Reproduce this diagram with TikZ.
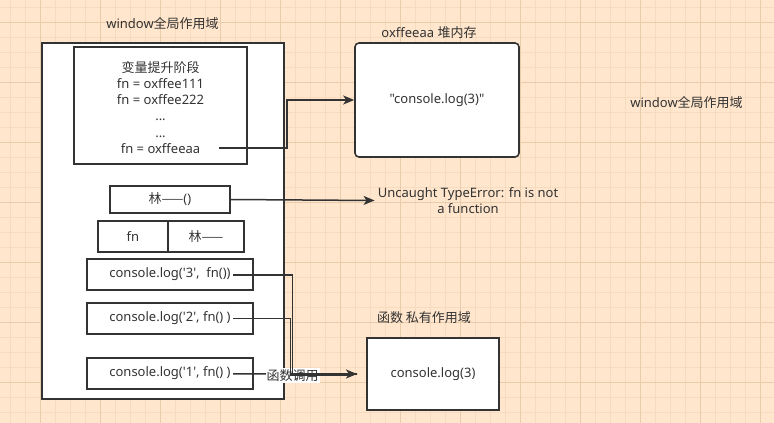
\documentclass[tikz,border=0pt]{standalone}
\usepackage{fontspec}
\setmainfont{Noto Sans}[Ligatures=TeXOff]
\newfontfamily\cjk{Noto Sans CJK SC}[Ligatures=TeXOff]
\usetikzlibrary{arrows.meta}
\definecolor{bg}{HTML}{FFE6CC}
\definecolor{minorc}{HTML}{F5DBBF}
\definecolor{majorc}{HTML}{E8CCAC}
\definecolor{txt}{HTML}{333333}
\definecolor{ln}{HTML}{333333}
\tikzset{
  lbl/.style={text=txt, inner sep=0pt, font=\fontsize{13}{16.3}\selectfont, align=center},
  box/.style={draw=ln, fill=white, line width=1.6pt, inner sep=0pt, text=txt, font=\fontsize{13}{16.3}\selectfont, align=center},
  conn/.style={draw=ln, line width=1.5pt},
  arr/.style={conn, -{Stealth[length=11pt,width=9pt,inset=3pt]}},
  minorline/.style={draw=minorc, line width=0.9pt},
  majorline/.style={draw=majorc, line width=1pt},
}
\begin{document}
\begin{tikzpicture}[x=1pt,y=-1pt]
\useasboundingbox (0,0) rectangle (774,423);
\fill[bg] (0,0) rectangle (774,423);
\foreach \i in {0,...,50} \draw[minorline] ({10.7+15*\i},0) -- ++(0,423);
\foreach \i in {0,...,27} \draw[minorline] (0,{7.3+15*\i}) -- ++(774,0);
\foreach \i in {0,...,12} \draw[majorline] ({40.7+60*\i},0) -- ++(0,423);
\foreach \i in {0,...,6} \draw[majorline] (0,{22.3+60*\i}) -- ++(774,0);

% titles
\node[lbl] (wintitle) at (162.5,23.5) {window{\cjk 全局作用域}};
\node[lbl] (winright) at (686.5,102.7) {window{\cjk 全局作用域}};
\node[lbl] (heaptitle) at (429,32.5) {oxffeeaa {\cjk 堆内存}};
\node[lbl] (fntitle) at (424,318) {{\cjk 函数 私有作用域}};

% global scope
\node[box, minimum width=242, minimum height=356] (outer) at (163,221) {};
\node[box, minimum width=173, minimum height=117] (hoist) at (160.5,105.5) {};
\node[lbl] (hoisttext) at (160.5,107.3) {{\cjk 变量提升阶段}\\fn = oxffee111\\fn = oxffee222\\...\\...\\fn = oxffeeaa};
\node[box, minimum width=120, minimum height=27] (lin) at (170,199.5) {{\cjk 林——}()};
\node[box, minimum width=70, minimum height=31] (fncell) at (133,236.5) {fn};
\node[box, minimum width=76, minimum height=31] (lincell) at (206,236.5) {{\cjk 林——}};
\node[box, minimum width=166, minimum height=31] (cthree) at (170,274.5) {console.log('3',~ fn())};
\node[box, minimum width=166, minimum height=31] (ctwo) at (170,318.5) {console.log('2', fn() )};
\node[box, minimum width=166, minimum height=31] (cone) at (170,373.5) {console.log('1', fn() )};

% heap
\node[box, rounded corners=4pt, minimum width=164, minimum height=114] (heap) at (437,100) {"console.log(3)"};

% error text
\node[lbl, inner sep=3pt] (err) at (468,200.5) {Uncaught TypeError: fn is not\\a function};

% function scope
\node[box, minimum width=132, minimum height=72] (fnbox) at (433,374) {console.log(3)};

% connectors
\coordinate (hoistend) at (219,148);
\draw[arr] (hoistend) -- (287,148) |- (heap.west);
\draw[arr] (lin.east) -- (err.west);

\coordinate (c1o) at (233,373.8);
\coordinate (c2o) at (233,318.3);
\coordinate (c3o) at (233,274.8);
\coordinate (callmerge) at (290,374);
\coordinate (callin) at (357,374);
\draw[conn] (c1o) -- (callin);
\node[lbl, fill=white, inner xsep=1pt, inner ysep=1.5pt] (calllbl) at (292.5,375.5) {{\cjk 函数调用}};
\draw[conn] (c2o) -- (290.5,318.3) |- (callin);
\draw[conn] (c3o) -- (292.7,274.8) |- (callin);
\draw[arr, line width=3pt] (callmerge) -- (callin);
\end{tikzpicture}
\end{document}
